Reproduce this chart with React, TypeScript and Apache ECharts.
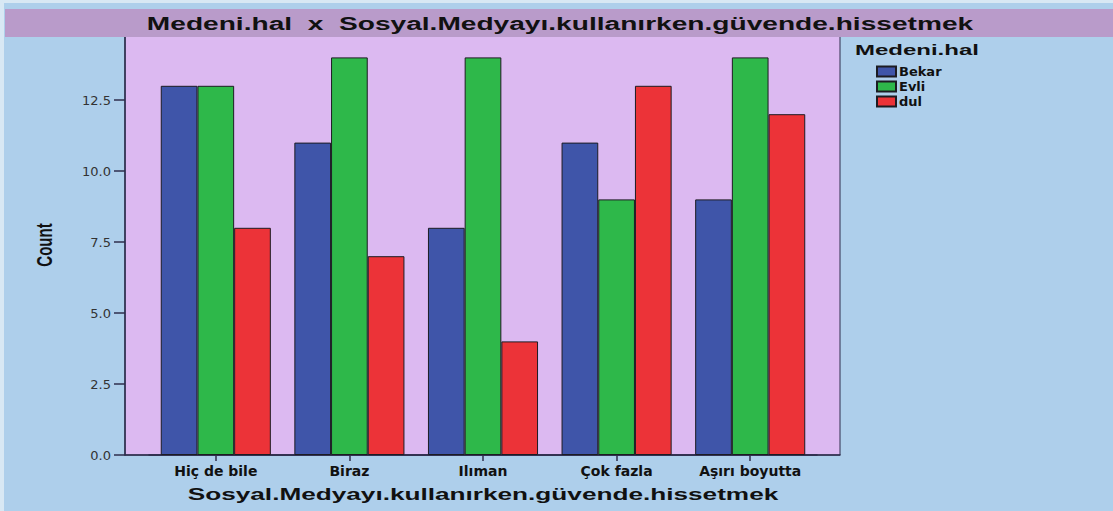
import React, { useEffect, useRef } from "react";
import * as echarts from "echarts";

const categories = ["Hiç de bile", "Biraz", "Ilıman", "Çok fazla", "Aşırı boyutta"];
const seriesNames = ["Bekar", "Evli", "dul"];
const bekar = [13, 11, 8, 11, 9];
const evli = [13, 14, 14, 9, 14];
const dul = [8, 7, 4, 13, 12];
const seriesColors = ["#3f55a9", "#2eb84a", "#ec3338"];
const yTicks = [0, 2.5, 5, 7.5, 10, 12.5];

const titleText = "Medeni.hal  x  Sosyal.Medyayı.kullanırken.güvende.hissetmek";
const xName = "Sosyal.Medyayı.kullanırken.güvende.hissetmek";
const yName = "Count";
const legendTitle = "Medeni.hal";

export default function App() {
  const ref = useRef<HTMLDivElement>(null);
  useEffect(() => {
    if (!ref.current) return;
    const chart = echarts.init(ref.current, null, { renderer: "svg" });
    const values = [bekar, evli, dul];
    const axisColor = "#2e2e4c";
    chart.setOption({
      animation: false,
      backgroundColor: "#aecfeb",
      grid: [
        {
          left: 125,
          right: 273,
          top: 29,
          bottom: 56,
          show: true,
          backgroundColor: "#dcb9f1",
          borderColor: axisColor,
          borderWidth: 1,
        },
        { left: 149, right: 296, top: 29, bottom: 56 },
      ],
      xAxis: [
        {
          gridIndex: 0,
          type: "value",
          min: 0,
          max: 1,
          axisLine: { show: true, lineStyle: { color: axisColor, width: 1.5 } },
          axisTick: { show: false },
          axisLabel: { show: false },
          splitLine: { show: false },
        },
        {
          gridIndex: 1,
          type: "category",
          data: categories,
          axisLine: { show: true, lineStyle: { color: axisColor, width: 1.5 } },
          axisTick: { show: true, alignWithLabel: true, length: 6, lineStyle: { color: axisColor, width: 1.5 } },
          axisLabel: {
            margin: 9,
            color: "#111",
            fontFamily: "DejaVu Sans",
            fontWeight: "bold",
            fontSize: 14,
          },
        },
      ],
      yAxis: [
        {
          gridIndex: 0,
          type: "value",
          min: 0,
          max: 15,
          interval: 2.5,
          axisLine: { show: true, lineStyle: { color: axisColor, width: 1.5 } },
          axisTick: { show: true, length: 11, lineStyle: { color: axisColor, width: 1.5 } },
          axisLabel: {
            margin: 14,
            color: "#333",
            fontFamily: "DejaVu Sans",
            fontSize: 13,
            formatter: (v: number) => (yTicks.includes(v) ? v.toFixed(1) : ""),
          },
          splitLine: { show: false },
        },
        {
          gridIndex: 1,
          type: "value",
          min: 0,
          max: 15,
          show: false,
          splitLine: { show: false },
        },
      ],
      legend: {
        orient: "vertical",
        left: 876,
        top: 65,
        icon: "rect",
        itemWidth: 19,
        itemHeight: 10,
        itemGap: 2,
        padding: 0,
        textStyle: {
          color: "#111",
          fontFamily: "DejaVu Sans",
          fontWeight: "bold",
          fontSize: 13,
          lineHeight: 12,
          padding: [0, 0, 0, -2],
        },
        data: seriesNames,
      },
      series: seriesNames.map((name, i) => ({
        name,
        type: "bar",
        xAxisIndex: 1,
        yAxisIndex: 1,
        data: values[i],
        barGap: "0%",
        barCategoryGap: "17.6%",
        itemStyle: { color: seriesColors[i], borderColor: "#1c1c22", borderWidth: 1 },
      })),
      graphic: [
        { type: "rect", z: 100, shape: { x: 0, y: 0, width: 1113, height: 3 }, style: { fill: "#d8e8f4" } },
        { type: "rect", z: 100, shape: { x: 0, y: 0, width: 4, height: 511 }, style: { fill: "#d8e8f4" } },
        { type: "rect", z: 100, shape: { x: 5, y: 9, width: 1108, height: 28 }, style: { fill: "#b99bca" } },
        {
          type: "text",
          z: 101,
          x: 560,
          y: 23,
          scaleX: 1.48,
          style: {
            text: titleText,
            font: 'bold 19px "Liberation Sans", Arial, sans-serif',
            fill: "#111",
            textAlign: "center",
            textVerticalAlign: "middle",
          },
        },
        {
          type: "text",
          z: 101,
          x: 483,
          y: 494,
          scaleX: 1.54,
          style: {
            text: xName,
            font: 'bold 17px "Liberation Sans", Arial, sans-serif',
            fill: "#111",
            textAlign: "center",
            textVerticalAlign: "middle",
          },
        },
        {
          type: "text",
          z: 101,
          x: 44,
          y: 245,
          rotation: Math.PI / 2,
          scaleY: 1.5,
          style: {
            text: yName,
            font: 'bold 15px "Liberation Sans", Arial, sans-serif',
            fill: "#111",
            textAlign: "center",
            textVerticalAlign: "middle",
          },
        },
        {
          type: "text",
          z: 101,
          x: 855,
          y: 50,
          scaleX: 1.6,
          style: {
            text: legendTitle,
            font: 'bold 15px "Liberation Sans", Arial, sans-serif',
            fill: "#111",
            textAlign: "left",
            textVerticalAlign: "middle",
          },
        },
      ],
    });
    return () => chart.dispose();
  }, []);
  return (
    <div
      ref={ref}
      style={{ position: "absolute", left: 0, top: 0, width: 1113, height: 511 }}
    />
  );
}
